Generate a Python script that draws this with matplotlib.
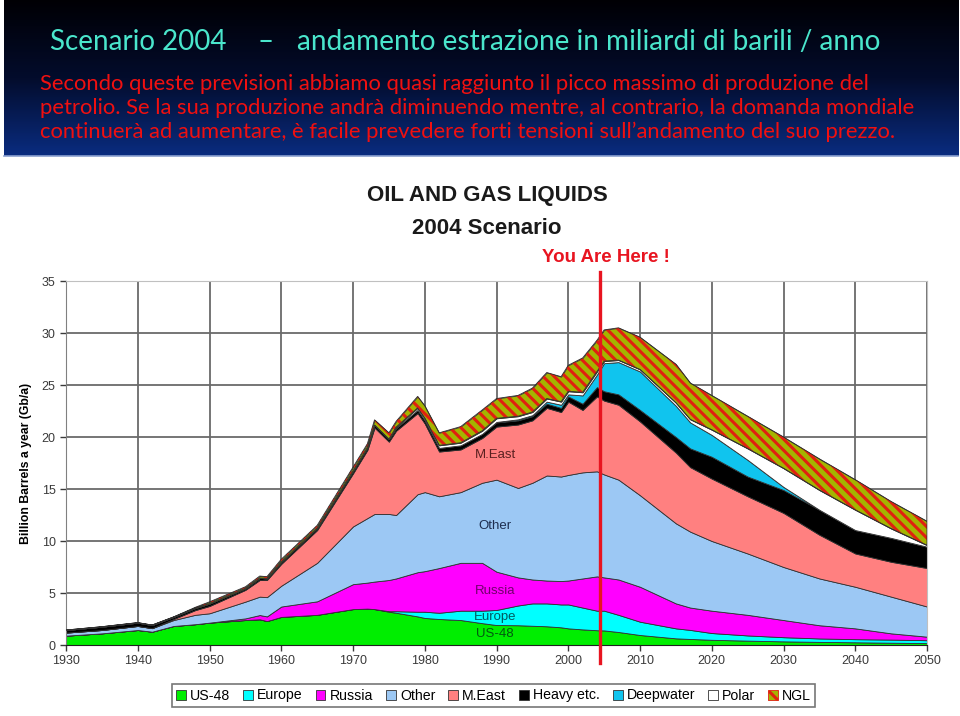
import numpy as np
import matplotlib
matplotlib.use("Agg")
import matplotlib.pyplot as plt
from matplotlib.colors import LinearSegmentedColormap
from matplotlib.patches import Patch

plt.rcParams['font.family'] = ['Liberation Sans', 'DejaVu Sans']
plt.rcParams['hatch.linewidth'] = 2.2

# --- dati (miliardi di barili / anno), strati impilati ---
years = [1930, 1935, 1940, 1942, 1945, 1948, 1950, 1955, 1957, 1958, 1960, 1965,
         1970, 1972, 1973, 1975, 1976, 1979, 1980, 1982, 1985, 1988, 1990, 1993,
         1995, 1997, 1999, 2000, 2002, 2004, 2005, 2007, 2010, 2015, 2017, 2020,
         2025, 2030, 2035, 2040, 2045, 2050]

us48 = [0.90, 1.12, 1.44, 1.28, 1.83, 2.00, 2.15, 2.40, 2.47, 2.30, 2.70, 2.90,
        3.45, 3.50, 3.45, 3.20, 3.10, 2.75, 2.60, 2.50, 2.40, 2.10, 1.92, 1.90,
        1.85, 1.80, 1.70, 1.60, 1.50, 1.42, 1.40, 1.25, 0.96, 0.64, 0.58, 0.50,
        0.42, 0.35, 0.30, 0.26, 0.22, 0.18]
europe = [0, 0, 0, 0, 0, 0, 0, 0, 0, 0, 0, 0,
          0, 0, 0, 0.05, 0.15, 0.45, 0.60, 0.60, 0.90, 1.20, 1.45, 1.90,
          2.15, 2.20, 2.20, 2.30, 2.10, 1.88, 1.90, 1.65, 1.28, 0.96, 0.87, 0.65,
          0.50, 0.40, 0.33, 0.30, 0.30, 0.28]
russia = [0, 0, 0, 0, 0, 0, 0, 0.16, 0.41, 0.45, 1.00, 1.30,
          2.40, 2.50, 2.65, 3.00, 3.15, 3.80, 3.90, 4.30, 4.60, 4.60, 3.68, 2.70,
          2.30, 2.20, 2.25, 2.30, 2.80, 3.30, 3.20, 3.40, 3.36, 2.40, 2.15, 2.15,
          1.98, 1.65, 1.27, 1.04, 0.60, 0.34]
other = [0.29, 0.32, 0.39, 0.34, 0.57, 0.90, 0.90, 1.61, 1.77, 1.85, 2.00, 3.70,
         5.55, 6.20, 6.50, 6.35, 6.10, 7.50, 7.60, 6.90, 6.80, 7.70, 8.85, 8.60,
         9.30, 10.10, 10.05, 10.15, 10.20, 10.10, 9.90, 9.60, 8.80, 7.70, 7.30, 6.70,
         5.90, 5.10, 4.50, 4.00, 3.53, 2.90]
meast = [0, 0, 0, 0, 0.10, 0.45, 0.70, 1.13, 1.60, 1.65, 2.10, 3.15,
         5.10, 6.55, 8.30, 6.95, 8.10, 7.80, 6.60, 4.30, 4.10, 4.30, 5.10, 6.10,
         6.00, 6.50, 6.20, 7.05, 6.00, 7.20, 7.10, 7.20, 7.10, 6.80, 6.20, 6.00,
         5.50, 5.20, 4.20, 3.20, 3.35, 3.70]
heavy = [0.25, 0.32, 0.32, 0.30, 0.20, 0.20, 0.23, 0.15, 0.20, 0.15, 0.20, 0.20,
         0.25, 0.25, 0.25, 0.25, 0.25, 0.30, 0.30, 0.35, 0.40, 0.40, 0.40, 0.40,
         0.40, 0.40, 0.40, 0.50, 0.60, 0.90, 0.90, 1.00, 1.10, 1.50, 1.80, 2.10,
         1.90, 2.20, 2.40, 2.25, 2.30, 2.05]
deepwater = [0, 0, 0, 0, 0, 0, 0, 0, 0, 0, 0, 0,
             0, 0, 0, 0, 0, 0, 0, 0, 0, 0, 0.05, 0.10,
             0.10, 0.20, 0.30, 0.20, 0.80, 1.20, 2.70, 3.10, 3.70, 3.00, 2.50, 2.10,
             1.60, 0.30, 0, 0, 0, 0]
polar = [0, 0, 0, 0, 0, 0, 0, 0, 0, 0, 0, 0,
         0, 0, 0, 0, 0.10, 0.20, 0.20, 0.25, 0.25, 0.30, 0.35, 0.30,
         0.30, 0.30, 0.30, 0.30, 0.30, 0.30, 0.20, 0.20, 0.20, 0.30, 0.30, 0.50,
         1.10, 1.80, 1.90, 1.95, 0.90, 0.15]
ngl = [0, 0, 0, 0, 0, 0.07, 0.17, 0.15, 0.18, 0.17, 0.25, 0.25,
       0.35, 0.35, 0.50, 0.60, 0.55, 1.10, 1.20, 1.20, 1.55, 2.00, 1.90, 2.00,
       2.30, 2.50, 2.40, 2.50, 3.30, 3.00, 3.00, 3.10, 3.10, 3.70, 3.50, 3.30,
       3.10, 3.00, 3.00, 2.90, 2.60, 2.30]

names = ['US-48', 'Europe', 'Russia', 'Other', 'M.East', 'Heavy etc.', 'Deepwater', 'Polar', 'NGL']
colors = ['#00ee00', '#00ffff', '#ff00ff', '#9cc8f4', '#ff8080', '#000000', '#10c4ee', '#ffffff', '#a4b400']

you_are_here = 2004.4

fig = plt.figure(figsize=(9.6, 7.16), dpi=100)
fig.patch.set_facecolor('white')

# --- intestazione blu sfumata ---
hax = fig.add_axes([0.004, 1 - 156 / 716, 0.994, 156 / 716])
grad = np.linspace(0, 1, 256).reshape(-1, 1)
cmap = LinearSegmentedColormap.from_list('hdr', ['#000004', '#030c2c', '#0a2c80'])
hax.imshow(grad, aspect='auto', cmap=cmap, extent=[0, 1, 0, 1], origin='upper')
hax.set_axis_off()
# sottile bordo chiaro sotto l'intestazione
fig.add_artist(plt.Line2D([0.004, 0.998], [1 - 156 / 716, 1 - 156 / 716], color='#8aa0d0',
                          linewidth=1.2))

cyan = '#4ae6cc'
red = '#f01010'
fig.text(50 / 960, 1 - 42 / 716, 'Scenario 2004', color=cyan, fontsize=20,
         family='Lato', va='center', ha='left')
fig.text(258 / 960, 1 - 42 / 716, '–', color=cyan, fontsize=20,
         family='Lato', va='center', ha='left')
fig.text(297 / 960, 1 - 42 / 716, 'andamento estrazione in miliardi di barili / anno', color=cyan,
         fontsize=20.2, family='Lato', va='center', ha='left')
righe = ['Secondo queste previsioni abbiamo quasi raggiunto il picco massimo di produzione del',
         'petrolio. Se la sua produzione andrà diminuendo mentre, al contrario, la domanda mondiale',
         'continuerà ad aumentare, è facile prevedere forti tensioni sull’andamento del suo prezzo.']
for i, r in enumerate(righe):
    fig.text(40 / 960, 1 - (84 + 24 * i) / 716, r, color=red, fontsize=15.8,
             family='Lato', va='center', ha='left')

# --- grafico ---
ax = fig.add_axes([66 / 960, 1 - 645 / 716, 861 / 960, 364 / 716])
layers = [us48, europe, russia, other, meast, heavy, deepwater, polar, ngl]
base = np.zeros(len(years))
for i, (vals, col) in enumerate(zip(layers, colors)):
    top = base + np.array(vals)
    ax.fill_between(years, base, top, facecolor=col, edgecolor='#303030', linewidth=0.6, zorder=2)
    if names[i] == 'NGL':
        ax.fill_between(years, base, top, facecolor='none', edgecolor='#e02010',
                        hatch='\\\\\\', linewidth=0, zorder=3)
        ax.fill_between(years, base, top, facecolor='none', edgecolor='#303030',
                        linewidth=0.6, zorder=4)
    base = top

ax.set_xlim(1930, 2050)
ax.set_ylim(0, 35)
ax.set_xticks(range(1930, 2051, 10))
ax.set_yticks(range(0, 36, 5))
ax.grid(True, color='#6a6a6a', linewidth=1.3, zorder=0)
ax.set_axisbelow(True)
ax.tick_params(labelsize=9, colors='#3a3a3a', length=4, width=1)
for s in ['top', 'right']:
    ax.spines[s].set_color('#c0c0c0')
ax.spines['left'].set_color('#808080')
ax.spines['bottom'].set_color('#202020')
ax.set_ylabel('Billion Barrels a year (Gb/a)', fontsize=8.8, fontweight='bold', labelpad=7)

# etichette interne
lab_kw = dict(fontsize=9.5, ha='center', va='center', zorder=5)
ax.text(1989.8, 18.3, 'M.East', color='#5a2020', **lab_kw)
ax.text(1989.8, 11.4, 'Other', color='#1e2e50', **lab_kw)
ax.text(1989.8, 5.2, 'Russia', color='#70006a', **lab_kw)
ax.text(1989.8, 2.7, 'Europe', color='#005a60', **lab_kw)
ax.text(1989.8, 1.05, 'US-48', color='#005a10', **lab_kw)

# linea "You Are Here"
ax.plot([you_are_here, you_are_here], [-1.7, 35.9], color='#e81420', linewidth=2.4,
        clip_on=False, zorder=6)

fig.text(487 / 960, 1 - 196 / 716, 'OIL AND GAS LIQUIDS', fontsize=16, fontweight='bold',
         color='#1a1a1a', ha='center', va='center')
fig.text(487 / 960, 1 - 229 / 716, '2004 Scenario', fontsize=16, fontweight='bold',
         color='#1a1a1a', ha='center', va='center')
fig.text(606 / 960, 1 - 258 / 716, 'You Are Here !', fontsize=13.5, fontweight='bold',
         color='#e81420', ha='center', va='center')

# legenda
handles = []
for n, c in zip(names, colors):
    if n == 'NGL':
        handles.append(Patch(facecolor=c, edgecolor='#e02010', hatch='\\\\\\', linewidth=0.6))
    else:
        handles.append(Patch(facecolor=c, edgecolor='#333333', linewidth=0.6))
leg = fig.legend(handles, names, loc='center', bbox_to_anchor=(493.5 / 960, 1 - 695.5 / 716),
                 ncol=9, fontsize=10.2, handlelength=0.7, handleheight=0.7, handletextpad=0.3,
                 columnspacing=0.9, frameon=True, fancybox=False, borderpad=0.3)
leg.get_frame().set_edgecolor('#555555')
leg.get_frame().set_linewidth(1.2)

fig.savefig('out.png', dpi=100)
